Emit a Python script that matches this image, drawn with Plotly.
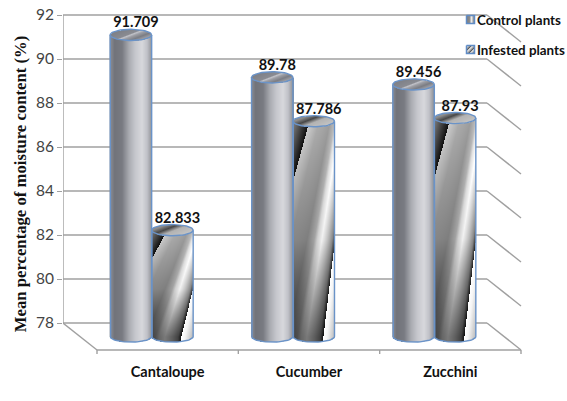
import numpy as np
import plotly.graph_objects as go

# Chart data
categories = ["Cantaloupe", "Cucumber", "Zucchini"]
series_names = ["Control plants", "Infested plants"]
control_values = [91.709, 89.78, 89.456]
infested_values = [82.833, 87.786, 87.93]
y_ticks = [78, 80, 82, 84, 86, 88, 90, 92]

# Scale of the back wall and of the pseudo-3D depth
W, H = 567, 401
PX_PER_CAT = 424 / 3
PX_PER_UNIT = 22.0
DX = 34 / PX_PER_CAT
DY = 27 / PX_PER_UNIT
BAR_HW = 20.75 / PX_PER_CAT
BAR_RY = 5.6 / PX_PER_UNIT
px_x = 1 / PX_PER_CAT
px_y = 1 / PX_PER_UNIT
Y_BASE, Y_TOP = y_ticks[0], y_ticks[-1]
OUTLINE = "#6a93c8"
AXIS_GREY = "#a0a0a0"

STEEL = [[0, "#000000"], [0.45, "#74767d"], [0.8, "#c6c7cd"], [1, "#ffffff"]]
NEUTRAL = [[0, "#000000"], [1, "#ffffff"]]


def control_shade(w, v, d):
    body = np.interp(w, [0, 0.1, 0.28, 0.45, 0.6, 0.76, 0.88, 1],
                     [0.54, 0.44, 0.47, 0.68, 0.8, 0.86, 0.78, 0.56])
    cap = np.interp(d, [0, 0.38, 0.46, 0.58, 0.8, 1],
                    [0.5, 0.54, 0.78, 0.62, 0.48, 0.62])
    return body, cap


def infested_shade(w, v, d):
    l1 = v + 0.71 * w - 0.27
    l2 = 2.157 - v - 1.607 * w
    s = np.clip(l1 / np.maximum(l1 + l2, 1e-6), 0, 1)
    body = np.interp(s, [0, 0.12, 0.32, 0.44, 0.5, 0.6, 0.74, 0.9, 0.98, 1],
                     [0.8, 0.62, 0.5, 0.6, 0.76, 0.87, 0.66, 0.4, 0.1, 0.02])
    body = np.clip(body + 0.22 * (w - 0.35), 0, 1)
    # the twist darkens towards the foot of the cylinder
    body = body * (1 - 0.45 * np.clip((v - 0.55) / 0.45, 0, 1))
    # dark wedge at the upper left of the twist
    a = w / 0.38 + v / 0.27
    wedge = np.interp(a, [0, 0.5, 1], [0.5, 0.28, 0.06])
    body = np.where(a < 1, wedge, body)
    # bright sliver at the lower right of the twist
    c = (w - 0.72) / 0.28 - (1 - v) / 0.45
    sliver = np.interp(c, [0, 0.3, 1], [1.0, 0.96, 0.72])
    body = np.where(c > 0, sliver, body)
    cap = np.interp(d, [0, 0.28, 0.45, 0.55, 1],
                    [0.55, 0.28, 0.55, 0.7, 0.76])
    return body, cap


def cylinder(fig, xc, value, shade, scale):
    top = value - DY / 2
    bot = Y_BASE - DY / 2
    xs = np.arange(xc - BAR_HW, xc + BAR_HW + px_x / 2, px_x)
    ys = np.arange(bot - BAR_RY - px_y, top + BAR_RY + px_y, px_y)
    xx, yy = np.meshgrid(xs, ys)
    w = np.clip((xx - xc + BAR_HW) / (2 * BAR_HW), 0, 1)
    arc = BAR_RY * np.sqrt(np.clip(1 - (2 * w - 1) ** 2, 0, 1))
    v = np.clip((top - yy) / (top - bot), 0, 1)
    d = np.clip(w + 0.35 * (yy - top) / BAR_RY * -1, 0, 1)
    body, cap = shade(w, v, d)
    z = np.full(xx.shape, np.nan)
    in_body = (yy >= bot - arc) & (yy <= top - arc)
    in_cap = np.abs(yy - top) <= arc
    z[in_body] = body[in_body]
    z[in_cap] = cap[in_cap]
    fig.add_trace(go.Heatmap(x=xs, y=ys, z=z, zmin=0, zmax=1, colorscale=scale,
                             showscale=False, hoverinfo="skip"))
    # blue outline: full top ellipse, sides, front half of the base
    t = np.linspace(0, 2 * np.pi, 61)
    fig.add_trace(go.Scatter(x=xc + BAR_HW * np.cos(t), y=top + BAR_RY * np.sin(t),
                             mode="lines", line=dict(color=OUTLINE, width=1.4),
                             hoverinfo="skip", showlegend=False, cliponaxis=False))
    t = np.linspace(np.pi, 2 * np.pi, 31)
    ox = np.r_[xc - BAR_HW, xc + BAR_HW * np.cos(t), xc + BAR_HW]
    oy = np.r_[top, bot + BAR_RY * np.sin(t), top]
    fig.add_trace(go.Scatter(x=ox, y=oy, mode="lines",
                             line=dict(color=OUTLINE, width=1.4),
                             hoverinfo="skip", showlegend=False, cliponaxis=False))


def swatch(fig, x0, y0, size, hatch):
    xs = x0 + np.arange(size) * px_x
    ys = y0 - np.arange(size) * px_y
    xx, yy = np.meshgrid(np.arange(size), np.arange(size))
    if hatch:
        z = np.interp((xx + yy) % 5, [0, 2, 3, 4], [0.85, 0.55, 0.35, 0.8])
    else:
        z = np.interp(xx, [0, 2, 4, 6, 7], [0.5, 0.55, 0.92, 0.6, 0.5])
    fig.add_trace(go.Heatmap(x=xs, y=ys, z=z, zmin=0, zmax=1, colorscale=NEUTRAL,
                             showscale=False, hoverinfo="skip"))
    pad_x, pad_y = px_x / 2, px_y / 2
    x1, y1 = xs[-1] + pad_x, ys[-1] - pad_y
    xa, ya = xs[0] - pad_x, ys[0] + pad_y
    fig.add_trace(go.Scatter(x=[xa, x1, x1, xa, xa], y=[ya, ya, y1, y1, ya], mode="lines",
                             line=dict(color="#5f8cc6", width=1.5),
                             hoverinfo="skip", showlegend=False))


fig = go.Figure()

# Walls and floor sit under the traces
x_back0, x_back1 = -0.5, -0.5 + len(categories)
line = dict(color=AXIS_GREY, width=1.4)
shapes = []
for tick in y_ticks:
    shapes.append(dict(type="line", x0=x_back0, x1=x_back1, y0=tick, y1=tick, line=line, layer="below"))
    shapes.append(dict(type="line", x0=x_back1, x1=x_back1 + DX, y0=tick, y1=tick - DY, line=line, layer="below"))
shapes.append(dict(type="line", x0=x_back0, x1=x_back0, y0=Y_BASE, y1=Y_TOP, line=line, layer="below"))
shapes.append(dict(type="line", x0=x_back0, x1=x_back0 + DX, y0=Y_BASE, y1=Y_BASE - DY, line=line, layer="below"))
shapes.append(dict(type="line", x0=x_back0 + DX, x1=x_back1 + DX, y0=Y_BASE - DY, y1=Y_BASE - DY, line=line, layer="below"))
for i in range(len(categories) + 1):
    xt = x_back0 + DX + i
    shapes.append(dict(type="line", x0=xt, x1=xt, y0=Y_BASE - DY, y1=Y_BASE - DY - 4 * px_y, line=line, layer="below"))

offset = BAR_HW
centre_shift = DX / 2 + 1 * px_x
for i, val in enumerate(infested_values):
    cylinder(fig, i + centre_shift + offset, val, infested_shade, NEUTRAL)
for i, val in enumerate(control_values):
    cylinder(fig, i + centre_shift - offset, val, control_shade, STEEL)

# Value labels above each cylinder
for sign, vals in ((-1, control_values), (1, infested_values)):
    fig.add_trace(go.Scatter(
        x=[i + centre_shift + sign * offset + 5 * px_x for i in range(len(categories))],
        y=[v - 0.11 for v in vals],
        text=[str(v) for v in vals], mode="text", textposition="middle center",
        textfont=dict(family="Lato", size=14.5, color="#111111", weight="bold"),
        hoverinfo="skip", showlegend=False, cliponaxis=False))

# Hand-placed key in the upper right corner
key_x = x_back0 + 404 * px_x
key_rows = [Y_TOP - 1 * px_y, Y_TOP - 31 * px_y]
annotations = []
for name, ky, hatch in zip(series_names, key_rows, (False, True)):
    swatch(fig, key_x, ky, 8, hatch)
    annotations.append(dict(x=key_x + 8 * px_x, y=ky - 4 * px_y, xref="x", yref="y", text=name,
                            showarrow=False, xanchor="left", yanchor="middle",
                            font=dict(family="Lato", size=13.4, color="#111111", weight="bold")))
annotations.append(dict(x=1 + DX, y=Y_BASE - DY - 43.5 * px_y,
                        xref="x", yref="y", text="Plant varietes", showarrow=False,
                        xanchor="center", yanchor="middle",
                        font=dict(family="Lato", size=13.5, color="#111111", weight="bold")))

margin_l, margin_r, margin_t, margin_b = 63, 43, 7, 40
plot_w = W - margin_l - margin_r
plot_h = H - margin_t - margin_b
y_hi = Y_TOP + 8 * px_y

fig.update_layout(
    width=W, height=H, autosize=False, paper_bgcolor="white", plot_bgcolor="white",
    margin=dict(l=margin_l, r=margin_r, t=margin_t, b=margin_b, pad=0),
    showlegend=False, shapes=shapes, annotations=annotations,
    xaxis=dict(range=[x_back0, x_back0 + plot_w * px_x], tickvals=[i + DX for i in range(len(categories))],
               ticktext=categories, ticks="", showgrid=False, zeroline=False, showline=False,
               tickfont=dict(family="Lato", size=14.5, color="#111111", weight="bold"),
               ticklabelstandoff=0, automargin=False),
    yaxis=dict(range=[y_hi - plot_h * px_y, y_hi], tickvals=y_ticks, ticks="outside", ticklen=5,
               tickcolor=AXIS_GREY, tickwidth=1.4, showgrid=False, zeroline=False, showline=False,
               tickfont=dict(family="Lato", size=15.5, color="#444444"), automargin=False,
               title=dict(text="Mean percentage of moisture content (%)", standoff=5,
                          font=dict(family="Liberation Serif", size=16.7, color="#111111", weight="bold"))),
)

fig.write_html("out.html")
